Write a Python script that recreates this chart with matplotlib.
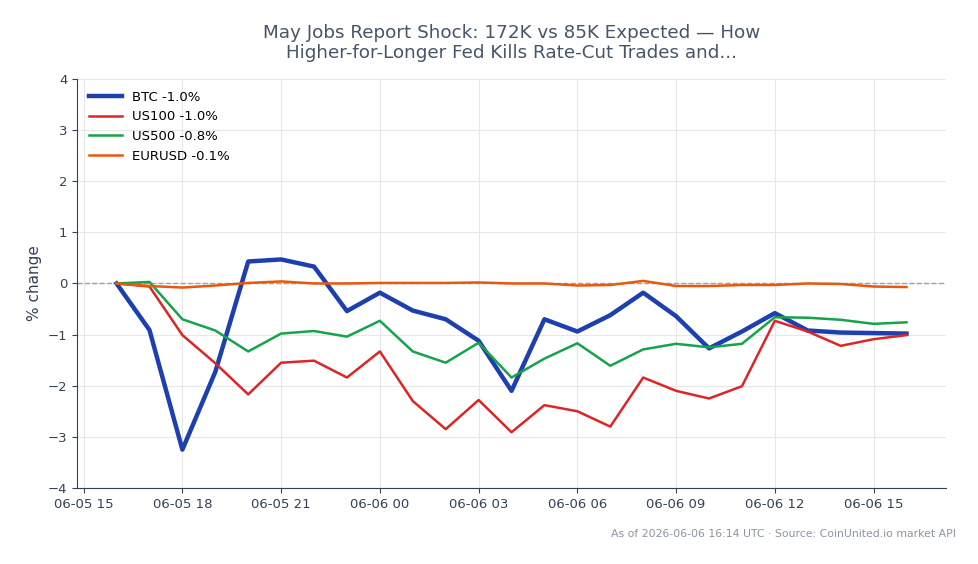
import numpy as np
import pandas as pd
import matplotlib
matplotlib.use("Agg")
import matplotlib.pyplot as plt
import matplotlib.dates as mdates

# hourly snapshots, 06-05 16:00 -> 06-06 16:00 (UTC)
times = pd.date_range("2026-06-05 16:00", "2026-06-06 16:00", freq="h")

btc = [0.0, -0.91, -3.25, -1.73, 0.43, 0.47, 0.33, -0.54, -0.18, -0.53, -0.70, -1.12,
       -2.10, -0.70, -0.94, -0.62, -0.18, -0.64, -1.27, -0.94, -0.58, -0.92, -0.96, -0.97, -0.98]
us100 = [0.0, -0.06, -1.01, -1.56, -2.17, -1.55, -1.51, -1.84, -1.33, -2.30, -2.85, -2.28,
         -2.91, -2.38, -2.50, -2.80, -1.84, -2.10, -2.25, -2.01, -0.73, -0.94, -1.22, -1.09, -1.01]
us500 = [0.0, 0.03, -0.70, -0.92, -1.33, -0.98, -0.93, -1.04, -0.73, -1.33, -1.55, -1.16,
         -1.84, -1.47, -1.17, -1.61, -1.29, -1.18, -1.25, -1.18, -0.66, -0.67, -0.71, -0.79, -0.76]
eurusd = [0.0, -0.05, -0.08, -0.04, 0.01, 0.04, 0.0, 0.0, 0.01, 0.01, 0.01, 0.02,
          0.0, 0.0, -0.04, -0.03, 0.05, -0.05, -0.05, -0.03, -0.03, 0.0, -0.01, -0.06, -0.07]

series = [
    ("BTC", btc, "#1e40af", 3.2),
    ("US100", us100, "#dc2626", 1.8),
    ("US500", us500, "#16a34a", 1.8),
    ("EURUSD", eurusd, "#ea580c", 1.8),
]

fig = plt.figure(figsize=(9.79, 5.64), dpi=100)
ax = fig.add_axes([0.0787, 0.1348, 0.8876, 0.7252])

for name, vals, color, lw in series:
    ax.plot(times, vals, color=color, linewidth=lw, label=f"{name} {vals[-1]:.1f}%", zorder=3)

ax.axhline(0, color="#94a3b8", linestyle="--", linewidth=1, zorder=2)

ax.set_ylim(-4, 4)
ax.set_yticks(range(-4, 5))
ax.xaxis.set_major_locator(mdates.HourLocator(byhour=range(0, 24, 3)))
ax.xaxis.set_major_formatter(mdates.DateFormatter("%m-%d %H"))

ax.grid(True, color="#e5e7eb", linewidth=0.8, zorder=0)
ax.set_axisbelow(True)
for side in ("top", "right"):
    ax.spines[side].set_visible(False)
for side in ("left", "bottom"):
    ax.spines[side].set_color("#334155")
ax.tick_params(colors="#334155", labelsize=9.5)
ax.set_ylabel("% change", fontsize=11, color="#334155")

ax.legend(loc="upper left", frameon=False, fontsize=9.5, handlelength=2.5)

fig.suptitle("May Jobs Report Shock: 172K vs 85K Expected \u2014 How\nHigher-for-Longer Fed Kills Rate-Cut Trades and...",
             x=0.5225, y=0.957, fontsize=13.2, color="#475569", linespacing=1.12)

fig.text(0.976, 0.045, "As of 2026-06-06 16:14 UTC \u00b7 Source: CoinUnited.io market API",
         ha="right", va="bottom", fontsize=7.8, color="#8a94a3")

fig.savefig("out.png", dpi=100)
